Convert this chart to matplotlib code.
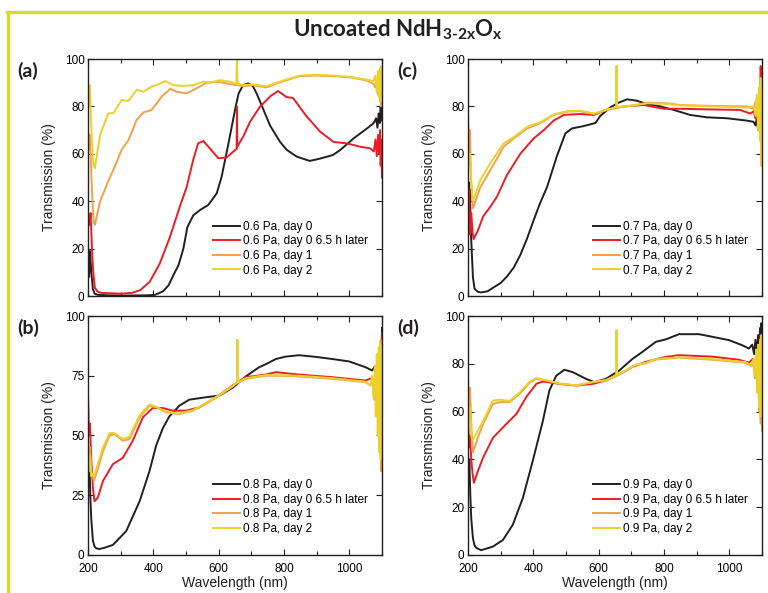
import matplotlib
matplotlib.use("Agg")
import matplotlib.pyplot as plt
from matplotlib.lines import Line2D
from matplotlib.ticker import MultipleLocator

plt.rcParams['font.family'] = ['Liberation Sans', 'DejaVu Sans']
plt.rcParams['mathtext.fontset'] = 'custom'
plt.rcParams['mathtext.rm'] = 'Lato:bold'
plt.rcParams['mathtext.bf'] = 'Lato:bold'
plt.rcParams['mathtext.it'] = 'Lato:bold'

# ---- panel (a): 0.6 Pa ----
a_black_wl = [200, 203, 206, 210, 215, 220, 230, 260, 320, 380, 405, 430, 447, 462, 477, 492, 504, 522, 543, 568, 594, 609, 630, 650, 661, 675, 691, 705, 716, 736, 757, 788, 809, 839, 879, 911, 950, 972, 1013, 1054, 1074, 1082, 1086, 1090, 1093, 1096, 1098, 1100]
a_black_t = [20, 8, 19, 10, 3, 1, 0.5, 0.3, 0.2, 0.3, 0.5, 2, 4.6, 9, 13, 20, 29, 34, 36.3, 38.4, 43.3, 50.3, 64.4, 78.5, 85.5, 89, 89.7, 88.5, 85.5, 79, 72, 65, 61.6, 58.8, 57, 58, 59.5, 61.6, 66.5, 70.7, 72.9, 75, 71, 77, 73, 80, 74, 79]
a_red_wl = [200, 204, 208, 212, 216, 221, 230, 242, 300, 334, 360, 389, 420, 451, 481, 502, 522, 537, 553, 573, 599, 625, 650, 655, 656, 657, 675, 696, 727, 760, 782, 807, 828, 868, 911, 952, 993, 1033, 1064, 1075, 1080, 1084, 1088, 1091, 1094, 1096, 1098, 1100]
a_red_t = [34, 30, 35, 20, 10, 3.4, 1.8, 1.3, 1.0, 1.3, 2.5, 6, 13.8, 25, 37.7, 46, 57.4, 64.4, 65.4, 62.3, 58.1, 58.5, 61.6, 62, 80, 63, 67.2, 73.5, 80, 84.5, 86.5, 84, 83.5, 76, 69.3, 65, 64.4, 63, 62.3, 61, 66, 59, 68, 60, 70, 55, 66, 50]
a_orange_wl = [200, 203, 206, 209, 212, 215, 218, 221, 237, 262, 280, 303, 324, 349, 370, 395, 426, 452, 471, 502, 532, 563, 594, 625, 650, 655, 656, 657, 675, 705, 746, 777, 807, 848, 899, 950, 1001, 1052, 1074, 1080, 1084, 1088, 1091, 1094, 1096, 1098, 1100]
a_orange_t = [70, 62, 68, 55, 45, 36, 31, 30, 40, 48.4, 54, 61.7, 65.8, 74.3, 77.5, 78.5, 84.2, 87.4, 86.2, 85.5, 87.6, 90, 90.4, 89.7, 89, 89, 100, 89, 88.5, 89, 88, 89.7, 91, 92.8, 93, 92.8, 92.3, 91, 89.5, 88, 91, 85, 92, 82, 94, 80, 95]
a_yellow_wl = [200, 203, 206, 209, 212, 216, 221, 237, 262, 278, 303, 324, 349, 370, 395, 410, 436, 461, 491, 522, 553, 573, 604, 635, 655, 656, 657, 675, 705, 746, 777, 807, 848, 899, 950, 1001, 1052, 1074, 1080, 1084, 1088, 1091, 1094, 1096, 1098, 1100]
a_yellow_t = [88, 80, 89, 75, 65, 56, 54, 68, 77, 77.2, 82.7, 82.3, 87, 86.2, 88.4, 89, 90.7, 89, 88.6, 89, 90.4, 90, 91.1, 90.4, 89.5, 100, 89.5, 89, 89.3, 88.5, 90, 91.3, 93, 93.3, 93, 92.5, 91.3, 90.7, 93, 86, 95, 84, 96, 82, 97, 90]

# ---- panel (b): 0.8 Pa ----
b_black_wl = [200, 202, 204, 207, 210, 215, 220, 225, 235, 250, 276, 317, 358, 388, 409, 429, 449, 480, 510, 561, 602, 643, 683, 724, 744, 775, 805, 846, 897, 948, 999, 1049, 1070, 1078, 1083, 1087, 1090, 1093, 1095, 1097, 1099, 1100]
b_black_t = [45, 30, 40, 25, 15, 6, 3.5, 2.8, 2.5, 3, 4.2, 10, 22.5, 35, 46, 53, 58, 62.5, 65, 66, 66.7, 70, 74.7, 78.6, 79.8, 82, 83, 83.6, 82.9, 82, 81, 78.6, 77.2, 79, 76, 81, 78, 85, 82, 90, 86, 95]
b_red_wl = [200, 203, 206, 210, 215, 220, 230, 246, 276, 307, 337, 368, 398, 429, 459, 500, 541, 592, 643, 683, 744, 775, 846, 948, 1049, 1070, 1078, 1083, 1087, 1090, 1093, 1096, 1098, 1100]
b_red_t = [67, 50, 55, 40, 28, 22.5, 24, 31, 38, 40.7, 47.8, 57.6, 61.5, 61.5, 60.4, 60.4, 61.8, 66, 71, 74.4, 75.5, 76.5, 75.5, 74.4, 73, 74, 72, 76, 70, 80, 65, 88, 60, 93]
b_orange_wl = [200, 203, 206, 210, 214, 218, 230, 246, 266, 281, 307, 327, 358, 388, 409, 439, 480, 521, 561, 602, 643, 656, 657, 658, 683, 744, 795, 846, 948, 1049, 1065, 1072, 1076, 1080, 1083, 1086, 1089, 1092, 1094, 1096, 1098, 1100]
b_orange_t = [50, 40, 45, 35, 33, 31, 36, 43.5, 50, 50.6, 47.8, 48.5, 57.6, 62.5, 61.8, 59.7, 59, 60.4, 63.2, 66.7, 70.5, 72, 90, 72, 73.7, 75, 75, 74.7, 73.7, 72.3, 71, 74, 65, 78, 60, 82, 50, 85, 45, 90, 35, 80]
b_yellow_wl = [200, 203, 206, 210, 214, 218, 230, 246, 266, 281, 307, 327, 358, 388, 409, 439, 480, 521, 561, 602, 643, 656, 657, 658, 683, 744, 795, 846, 948, 1049, 1065, 1070, 1074, 1078, 1081, 1084, 1087, 1090, 1092, 1094, 1096, 1098, 1100]
b_yellow_t = [45, 35, 42, 33, 34, 33, 38, 45, 51, 51, 48.5, 49.5, 58.5, 63, 62, 60, 59.2, 60.6, 63.5, 67, 70.8, 72.2, 90, 72.2, 74, 75.3, 75.2, 75, 74, 72.5, 71, 75, 66, 79, 58, 84, 50, 87, 43, 89, 40, 88, 60]

# ---- panel (c): 0.7 Pa ----
c_black_wl = [200, 202, 204, 206, 208, 211, 215, 220, 230, 240, 260, 279, 300, 319, 340, 360, 380, 401, 420, 442, 472, 498, 518, 554, 590, 605, 636, 660, 687, 717, 748, 789, 830, 880, 931, 993, 1054, 1074, 1080, 1084, 1088, 1091, 1094, 1096, 1098, 1100]
c_black_t = [30, 48, 28, 45, 30, 20, 8, 3, 1.8, 1.5, 2, 3.7, 5.5, 8.2, 12, 17.3, 24, 32, 39, 46, 59, 68.6, 70.7, 71.7, 73, 76, 79.6, 81.5, 83, 82.4, 81, 80, 78.5, 76.4, 75.4, 75, 74, 73.5, 72, 75, 70, 76, 73, 78, 75, 80]
c_red_wl = [200, 203, 206, 210, 214, 217, 230, 246, 270, 289, 319, 360, 401, 432, 462, 493, 544, 585, 626, 677, 738, 799, 850, 952, 1033, 1064, 1075, 1080, 1084, 1088, 1091, 1094, 1096, 1098, 1100]
c_red_t = [28, 45, 26, 35, 27, 24, 27.5, 33.5, 38, 42, 51, 60, 66.5, 70, 74, 76.4, 76.8, 76.4, 78.7, 80, 80.6, 79, 79, 78.7, 78.5, 77, 78, 75, 80, 72, 83, 70, 97, 75, 65]
c_orange_wl = [200, 203, 206, 209, 212, 215, 238, 268, 309, 340, 381, 421, 462, 503, 544, 585, 626, 654, 655, 656, 707, 748, 809, 850, 952, 1054, 1075, 1080, 1084, 1088, 1091, 1094, 1096, 1098, 1100]
c_orange_t = [77, 60, 70, 50, 42, 37, 46, 53, 63, 66.5, 70.7, 72.9, 76.4, 77.8, 78, 76.8, 78.5, 79.5, 97, 79.5, 80.4, 81.6, 81.3, 80.6, 80.2, 80, 79, 82, 76, 84, 72, 86, 65, 90, 60]
c_yellow_wl = [200, 203, 206, 210, 215, 238, 268, 309, 340, 381, 421, 462, 503, 544, 585, 626, 654, 655, 656, 707, 748, 809, 850, 952, 1054, 1075, 1080, 1084, 1088, 1091, 1094, 1096, 1098, 1100]
c_yellow_t = [62, 55, 60, 48, 40, 49, 56, 64.4, 67, 71.4, 73.3, 76.6, 78, 78.2, 77, 78.7, 79.6, 97, 79.6, 80.5, 81.3, 81, 80.4, 80, 79.5, 80, 76, 85, 70, 88, 66, 92, 55, 85]

# ---- panel (d): 0.9 Pa ----
d_black_wl = [200, 202, 204, 207, 210, 215, 220, 225, 240, 276, 307, 337, 368, 398, 429, 449, 470, 495, 521, 561, 587, 622, 663, 703, 734, 775, 805, 846, 907, 948, 999, 1039, 1060, 1070, 1076, 1080, 1084, 1088, 1091, 1094, 1096, 1098, 1100]
d_black_t = [43, 30, 40, 25, 15, 7, 4, 3, 2, 3.5, 6.3, 12.6, 23.9, 39.3, 56, 68.8, 75, 77.5, 76.5, 73.7, 72.3, 73.7, 77.2, 82, 85, 89.2, 90.2, 92.4, 92.4, 91.3, 89.9, 87.8, 86.4, 88, 84, 90, 83, 92, 80, 95, 78, 97, 90]
d_red_wl = [200, 203, 206, 210, 214, 218, 230, 246, 276, 317, 348, 378, 409, 429, 480, 531, 582, 622, 663, 703, 744, 775, 805, 846, 948, 1029, 1060, 1072, 1078, 1083, 1087, 1090, 1093, 1096, 1098, 1100]
d_red_t = [57, 45, 50, 40, 34, 30.2, 35, 40.7, 49, 54.8, 59, 66, 71.6, 72.6, 71.6, 70.9, 71.6, 73, 75.6, 78.7, 80.8, 81.9, 82.9, 83.6, 83, 81.7, 80.5, 82, 78, 84, 75, 88, 70, 92, 65, 80]
d_orange_wl = [200, 203, 206, 210, 213, 215, 230, 246, 276, 297, 327, 358, 388, 409, 439, 480, 531, 582, 622, 654, 655, 656, 663, 714, 744, 775, 846, 948, 1049, 1068, 1074, 1078, 1082, 1085, 1088, 1091, 1094, 1096, 1098, 1100]
d_orange_t = [74, 60, 70, 55, 47, 43, 49, 54.8, 63.2, 64, 64, 67.4, 72, 73.7, 73, 71.6, 70.9, 72.3, 73, 75, 94, 75, 75.6, 79.5, 80.2, 81.8, 82.6, 81.7, 80.5, 79, 81, 74, 84, 70, 85, 60, 87, 55, 90, 52]
d_yellow_wl = [200, 203, 206, 210, 213, 230, 246, 276, 297, 327, 358, 388, 409, 439, 480, 531, 582, 622, 654, 655, 656, 663, 714, 744, 775, 846, 948, 1049, 1068, 1074, 1078, 1082, 1085, 1088, 1091, 1094, 1096, 1098, 1100]
d_yellow_t = [70, 55, 62, 50, 47.7, 52, 56, 64.6, 65, 64.5, 68, 72.5, 74, 73.2, 71.8, 71, 72.4, 73.2, 75.2, 94, 75.2, 75.8, 79.7, 80.4, 82, 82.8, 82, 80.7, 79.5, 82, 75, 86, 68, 88, 62, 90, 58, 92, 70]

colors = ['#231f20', '#ed1c24', '#f2a04a', '#ebd12a']
suffixes = ['day 0', 'day 0 6.5 h later', 'day 1', 'day 2']

panels = [
    ('(a)', '0.6 Pa', [0.1146, 0.5008, 0.3828, 0.3997], 20,
     [(a_black_wl, a_black_t), (a_red_wl, a_red_t), (a_orange_wl, a_orange_t), (a_yellow_wl, a_yellow_t)]),
    ('(b)', '0.8 Pa', [0.1146, 0.0641, 0.3828, 0.4030], 25,
     [(b_black_wl, b_black_t), (b_red_wl, b_red_t), (b_orange_wl, b_orange_t), (b_yellow_wl, b_yellow_t)]),
    ('(c)', '0.7 Pa', [0.6094, 0.5008, 0.3828, 0.3997], 20,
     [(c_black_wl, c_black_t), (c_red_wl, c_red_t), (c_orange_wl, c_orange_t), (c_yellow_wl, c_yellow_t)]),
    ('(d)', '0.9 Pa', [0.6094, 0.0641, 0.3828, 0.4030], 20,
     [(d_black_wl, d_black_t), (d_red_wl, d_red_t), (d_orange_wl, d_orange_t), (d_yellow_wl, d_yellow_t)]),
]

fig = plt.figure(figsize=(7.68, 5.93), dpi=100)

for tag, pa, rect, ystep, series in panels:
    ax = fig.add_axes(rect)
    for (wl, t), c, s in zip(series, colors, suffixes):
        ax.plot(wl, t, color=c, lw=1.4, label=pa + ', ' + s)
    ax.set_xlim(200, 1100)
    ax.set_ylim(0, 100)
    ax.xaxis.set_major_locator(MultipleLocator(200))
    ax.xaxis.set_minor_locator(MultipleLocator(100))
    ax.yaxis.set_major_locator(MultipleLocator(ystep))
    ax.tick_params(which='both', direction='in', top=True, right=True, labelsize=8.5, pad=2.5, color='#231f20')
    ax.tick_params(axis='x', which='major', pad=5.5)
    ax.tick_params(which='major', length=4, width=0.8)
    ax.tick_params(which='minor', length=3, width=0.8)
    for sp in ax.spines.values():
        sp.set_linewidth(1.0)
        sp.set_color('#231f20')
    ax.set_ylabel('Transmission (%)', fontsize=10, color='#231f20')
    ax.yaxis.set_label_coords(-0.11, 0.5)
    if tag in ('(b)', '(d)'):
        ax.set_xlabel('Wavelength (nm)', fontsize=10, color='#231f20')
        ax.xaxis.set_label_coords(0.5, -0.088)
    else:
        ax.set_xticklabels([])
    ax.legend(loc='center left', bbox_to_anchor=(0.425, 0.2), frameon=False, fontsize=8.5,
              handlelength=2.3, handletextpad=0.25, labelspacing=0.22, borderpad=0, borderaxespad=0)
    fig.text(rect[0] - 0.092, rect[1] + rect[3] - 0.02, tag, fontsize=14, fontweight='bold',
             family='Lato', color='#231f20', va='center', ha='left')

fig.text(0.518, 0.938, r'Uncoated NdH$_{\text{3-2x}}$O$_{\text{x}}$', fontsize=16, fontweight='bold',
         family='Lato', color='#231f20', ha='center', va='baseline')

# lime frame lines on top and left
fig.add_artist(Line2D([0.0105, 0.0105], [0.0, 0.979], transform=fig.transFigure, color='#d6de23', lw=2.4))
fig.add_artist(Line2D([0.009, 1.0], [0.979, 0.979], transform=fig.transFigure, color='#d6de23', lw=2.4))

fig.savefig('out.png', dpi=100)
